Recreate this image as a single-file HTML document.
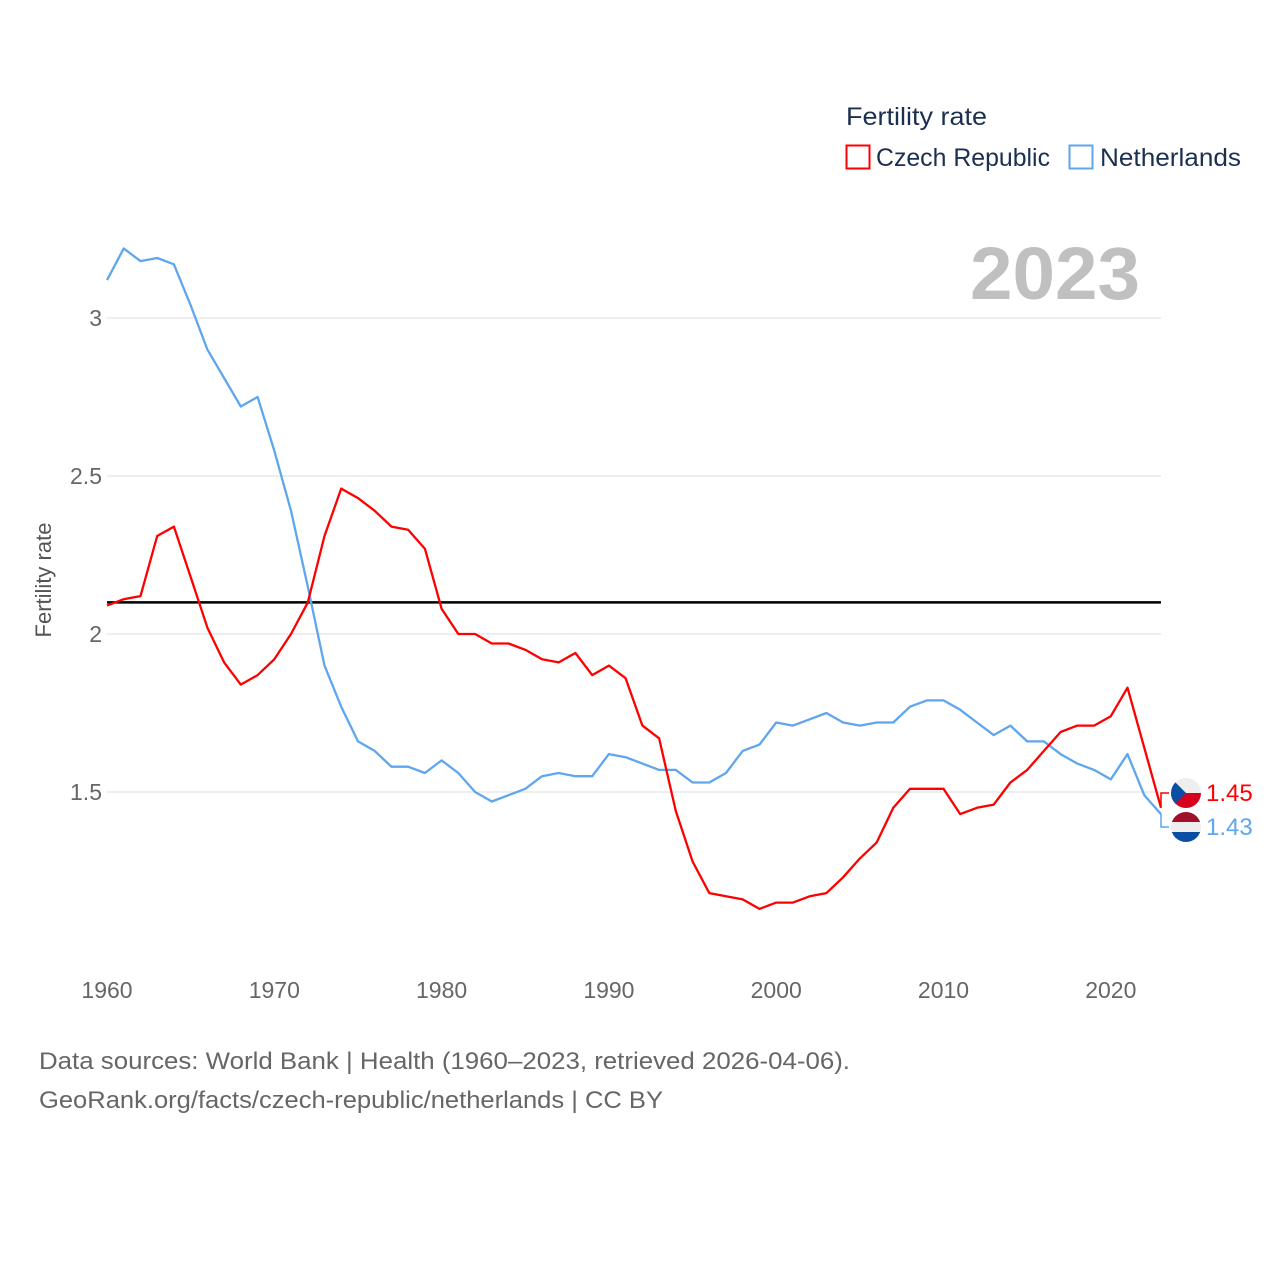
<!DOCTYPE html>
<html><head><meta charset="utf-8">
<style>
html,body{margin:0;padding:0;background:#fff;width:1280px;height:1280px;overflow:hidden}
svg{display:block;font-family:"Liberation Sans",sans-serif}
</style></head>
<body>
<svg id="chart" width="1280" height="1280" viewBox="0 0 1280 1280">
  <g>
    <text x="846" y="125" font-size="25" fill="#1b2f4f" textLength="141" lengthAdjust="spacingAndGlyphs">Fertility rate</text>
    <g>
      <rect x="846.5" y="145.5" width="23" height="23" fill="none" stroke="#ff0000" stroke-width="2"/>
      <text x="876" y="166" font-size="25" fill="#1b2f4f" textLength="174" lengthAdjust="spacingAndGlyphs">Czech Republic</text>
    </g>
    <g>
      <rect x="1069.5" y="145.5" width="23" height="23" fill="none" stroke="#5ea6ee" stroke-width="2"/>
      <text x="1100" y="166" font-size="25" fill="#1b2f4f" textLength="141" lengthAdjust="spacingAndGlyphs">Netherlands</text>
    </g>
  </g>
  <text x="1140" y="299" font-size="74" font-weight="bold" fill="#c0c0c0" text-anchor="end" textLength="170" lengthAdjust="spacingAndGlyphs">2023</text>
  <text transform="translate(51,580) rotate(-90)" font-size="22" fill="#555" text-anchor="middle">Fertility rate</text>
  <g id="grid"></g>
  <g id="yticks"></g>
  <g id="xticks"></g>
  <g id="series"></g>
  <g id="labels"></g>
  <text x="39" y="1069" font-size="24" fill="#666" textLength="811" lengthAdjust="spacingAndGlyphs">Data sources: World Bank | Health (1960–2023, retrieved 2026-04-06).</text>
  <text x="39" y="1108" font-size="24" fill="#666" textLength="624" lengthAdjust="spacingAndGlyphs">GeoRank.org/facts/czech-republic/netherlands | CC BY</text>
</svg>
<script>
const years = [];
for (let y = 1960; y <= 2023; y++) years.push(y);
const czech = [2.09,2.11,2.12,2.31,2.34,2.18,2.02,1.91,1.84,1.87,1.92,2.00,2.10,2.31,2.46,2.43,2.39,2.34,2.33,2.27,2.08,2.00,2.00,1.97,1.97,1.95,1.92,1.91,1.94,1.87,1.90,1.86,1.71,1.67,1.44,1.28,1.18,1.17,1.16,1.13,1.15,1.15,1.17,1.18,1.23,1.29,1.34,1.45,1.51,1.51,1.51,1.43,1.45,1.46,1.53,1.57,1.63,1.69,1.71,1.71,1.74,1.83,1.64,1.45];
const netherlands = [3.12,3.22,3.18,3.19,3.17,3.04,2.90,2.81,2.72,2.75,2.58,2.39,2.15,1.90,1.77,1.66,1.63,1.58,1.58,1.56,1.60,1.56,1.50,1.47,1.49,1.51,1.55,1.56,1.55,1.55,1.62,1.61,1.59,1.57,1.57,1.53,1.53,1.56,1.63,1.65,1.72,1.71,1.73,1.75,1.72,1.71,1.72,1.72,1.77,1.79,1.79,1.76,1.72,1.68,1.71,1.66,1.66,1.62,1.59,1.57,1.54,1.62,1.49,1.43];
const yTicks = [1.5, 2, 2.5, 3];
const yTickLabels = ["1.5", "2", "2.5", "3"];
const xTicks = [1960, 1970, 1980, 1990, 2000, 2010, 2020];
const replacementRate = [2.1];

const NS = "http://www.w3.org/2000/svg";
const X0 = 107, X1 = 1161, Y1960 = 1960, Y2023 = 2023;
function xScale(yr){ return X0 + (yr - Y1960) * (X1 - X0) / (Y2023 - Y1960); }
function yScale(v){ return 634 - (v - 2) * 316; }
function mk(tag, attrs, parent){ const e = document.createElementNS(NS, tag); for (const k in attrs) e.setAttribute(k, attrs[k]); parent.appendChild(e); return e; }

const grid = document.getElementById('grid');
const yt = document.getElementById('yticks');
yTicks.forEach((v, i) => {
  const l = mk('line', {x1: X0, x2: X1, y1: yScale(v), y2: yScale(v), stroke: '#e8e8e8', 'stroke-width': 1.5}, grid);
  
  
  const t = mk('text', {x: 102, y: yScale(v) + 8, 'font-size': 23, fill: '#666', 'text-anchor': 'end'}, yt);
  t.textContent = yTickLabels[i];
  
  
});
const xt = document.getElementById('xticks');
xTicks.forEach(yr => {
  const t = mk('text', {x: xScale(yr), y: 998, 'font-size': 23, fill: '#666', 'text-anchor': 'middle'}, xt);
  t.textContent = yr;
  
  
});
const ser = document.getElementById('series');
const ref = mk('line', {x1: X0, x2: X1, y1: yScale(replacementRate[0]), y2: yScale(replacementRate[0]), stroke: '#000', 'stroke-width': 2.5}, ser);


function drawLine(vals, color, name){
  const d = vals.map((v, i) => (i ? 'L' : 'M') + xScale(years[i]).toFixed(1) + ',' + yScale(v).toFixed(1)).join(' ');
  const p = mk('path', {d: d, fill: 'none', stroke: color, 'stroke-width': 2.3, 'stroke-linejoin': 'round'}, ser);
  
  
}
drawLine(netherlands, '#5ea6ee', 'line-netherlands');
drawLine(czech, '#ff0000', 'line-czech');

const lab = document.getElementById('labels');
function endLabel(vals, color, ly, name, flag){
  const v = vals[vals.length - 1];
  const ex = xScale(years[years.length - 1]), ey = yScale(v);
  const c = mk('path', {d: `M${ex},${ey} L${ex},${ly} L${ex+8},${ly}`, fill: 'none', stroke: color, 'stroke-width': 1.5}, lab);
  
  
  const g = mk('g', {}, lab);
  
  
  const cx = 1186, r = 15;
  const clipId = 'clip-' + name;
  const cp = mk('clipPath', {id: clipId}, g);
  mk('circle', {cx: cx, cy: ly, r: r}, cp);
  const fg = mk('g', {'clip-path': `url(#${clipId})`}, g);
  if (flag === 'cz') {
    mk('rect', {x: cx - r, y: ly - r, width: 2*r, height: r, fill: '#eeeeee'}, fg);
    mk('rect', {x: cx - r, y: ly, width: 2*r, height: r, fill: '#d7001f'}, fg);
    mk('polygon', {points: `${cx-r},${ly-r} ${cx},${ly} ${cx-r},${ly+r}`, fill: '#0a4ea3'}, fg);
  } else {
    mk('rect', {x: cx - r, y: ly - r, width: 2*r, height: 10, fill: '#a0102a'}, fg);
    mk('rect', {x: cx - r, y: ly - 5, width: 2*r, height: 10, fill: '#eeeeee'}, fg);
    mk('rect', {x: cx - r, y: ly + 5, width: 2*r, height: 10, fill: '#0a4ea3'}, fg);
  }
  const t = mk('text', {x: 1206, y: ly + 8, 'font-size': 24, fill: color}, lab);
  t.textContent = v.toFixed(2);
  
  
}
endLabel(czech, '#ff0000', 793, 'czech', 'cz');
endLabel(netherlands, '#5ea6ee', 827, 'netherlands', 'nl');
</script>
</body></html>
